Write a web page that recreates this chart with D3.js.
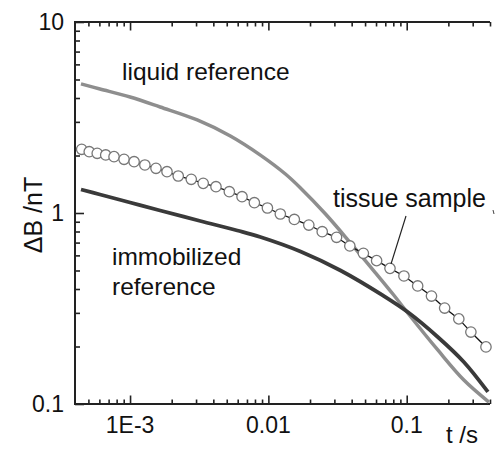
<!DOCTYPE html>
<html>
<head>
<meta charset="utf-8">
<script src="https://cdn.jsdelivr.net/npm/d3@7"></script>
<style>
  body { margin: 0; background: #fff; }
  text { font-family: "Liberation Sans", Arial, sans-serif; fill: #111; }
</style>
</head>
<body>
<script>
var width = 496,
    height = 450;

// tissue sample (circles), t in s, dB in nT
var tissueT = [4.47e-4, 5.07e-4, 5.79e-4, 6.67e-4, 7.66e-4, 9.05e-4, 1.07e-3, 1.28e-3, 1.54e-3, 1.85e-3,
               2.23e-3, 2.77e-3, 3.38e-3, 4.18e-3, 5.22e-3, 6.45e-3, 7.92e-3, 9.84e-3, 0.0122, 0.0154,
               0.0196, 0.0245, 0.0311, 0.0388, 0.0486, 0.0606, 0.0757, 0.0955, 0.120, 0.151,
               0.188, 0.238, 0.291, 0.374];
var tissueB = [2.155, 2.094, 2.054, 2.013, 1.972, 1.910, 1.856, 1.784, 1.714, 1.645,
               1.562, 1.501, 1.430, 1.373, 1.293, 1.217, 1.132, 1.062, 0.988, 0.925,
               0.865, 0.798, 0.746, 0.672, 0.615, 0.563, 0.513, 0.468, 0.415, 0.3675,
               0.318, 0.279, 0.238, 0.199];

// liquid reference
var liquidT = [4.42e-4, 6.06e-4, 1e-3, 1.65e-3, 3.06e-3, 5.31e-3, 8.75e-3, 0.01328, 0.01706,
               0.02588, 0.03928, 0.05963, 0.08051, 0.1017, 0.1677, 0.2588, 0.3928];
var liquidB = [4.74, 4.46, 4.05, 3.59, 3.07, 2.53, 2.01, 1.60, 1.352,
               0.988, 0.696, 0.485, 0.372, 0.2996, 0.1918, 0.1336, 0.1024];

// immobilized reference
var immobT = [4.42e-4, 6.06e-4, 1e-3, 1.65e-3, 3.22e-3, 5.96e-3, 8.75e-3, 0.01706, 0.03325,
              0.0681, 0.1017, 0.1677, 0.2588, 0.3864];
var immobB = [1.327, 1.250, 1.135, 1.031, 0.908, 0.810, 0.749, 0.629, 0.500,
              0.368, 0.303, 0.2243, 0.1659, 0.1156];

var xMajor = [1e-3, 1e-2, 1e-1];
var xLabels = ['1E-3', '0.01', '0.1'];
var yMajor = [0.1, 1, 10];
var yLabels = ['0.1', '1', '10'];

var svg = d3.select('body').append('svg')
    .attr('width', width)
    .attr('height', height);

var x = d3.scaleLog().domain([4e-4, 0.4]).range([75, 490]);
var y = d3.scaleLog().domain([0.1, 10]).range([404, 22]);

function minors(lo, hi) {
    var out = [];
    for (var p = Math.floor(Math.log10(lo)); p <= Math.ceil(Math.log10(hi)); p++) {
        for (var m = 2; m <= 9; m++) {
            var v = m * Math.pow(10, p);
            if (v > lo * 1.0001 && v <= hi * 1.0001) out.push(v);
        }
    }
    return out;
}

// axes: ticks pointing inward
function drawAxis(axis, transform) {
    var g = svg.append('g').attr('transform', transform).call(axis);
    g.selectAll('text').remove();
    g.select('.domain').remove();
    g.selectAll('line').attr('stroke', '#222').attr('stroke-width', 1.6);
    return g;
}
drawAxis(d3.axisBottom(x).tickValues(minors(4e-4, 0.4)).tickSize(-4.5), 'translate(0,404)');
drawAxis(d3.axisBottom(x).tickValues(xMajor).tickSize(-8.5), 'translate(0,404)');
drawAxis(d3.axisTop(x).tickValues(minors(4e-4, 0.4)).tickSize(-4.5), 'translate(0,22)');
drawAxis(d3.axisTop(x).tickValues(xMajor).tickSize(-8.5), 'translate(0,22)');
drawAxis(d3.axisLeft(y).tickValues(minors(0.1, 10)).tickSize(-5), 'translate(75,0)');
drawAxis(d3.axisLeft(y).tickValues(yMajor).tickSize(-9), 'translate(75,0)');

// frame: left, bottom, top
svg.append('path')
    .attr('d', 'M' + x.range()[1] + ',' + y.range()[1] + 'H' + x.range()[0] + 'V' + y.range()[0] + 'H' + x.range()[1])
    .attr('fill', 'none')
    .attr('stroke', '#222')
    .attr('stroke-width', 2);

// tick labels
svg.selectAll('.xl').data(xMajor).enter().append('text')
    .attr('x', function (d) { return x(d); })
    .attr('y', 433)
    .attr('text-anchor', 'middle')
    .style('font-size', '23px')
    .text(function (d, i) { return xLabels[i]; });

svg.selectAll('.yl').data(yMajor).enter().append('text')
    .attr('x', 64)
    .attr('y', function (d) { return y(d) + 8; })
    .attr('text-anchor', 'end')
    .style('font-size', '23px')
    .text(function (d, i) { return yLabels[i]; });

// axis titles
svg.append('text')
    .attr('transform', 'translate(42,215) rotate(-90)')
    .attr('text-anchor', 'middle')
    .style('font-size', '25px')
    .text('\u0394B /nT');

svg.append('text')
    .attr('x', 446)
    .attr('y', 443)
    .style('font-size', '24px')
    .text('t /s');

// curves
var line = d3.line()
    .x(function (d) { return x(d[0]); })
    .y(function (d) { return y(d[1]); })
    .curve(d3.curveCatmullRom);

svg.append('path')
    .attr('d', line(d3.zip(liquidT, liquidB)))
    .attr('fill', 'none')
    .attr('stroke', '#8e8e8e')
    .attr('stroke-width', 3.5);

svg.append('path')
    .attr('d', line(d3.zip(immobT, immobB)))
    .attr('fill', 'none')
    .attr('stroke', '#3a3a3a')
    .attr('stroke-width', 3.8);

var tissue = d3.zip(tissueT, tissueB);
svg.append('path')
    .attr('d', d3.line().x(function (d) { return x(d[0]); }).y(function (d) { return y(d[1]); })(tissue))
    .attr('fill', 'none')
    .attr('stroke', '#111')
    .attr('stroke-width', 1.3);

svg.selectAll('circle').data(tissue).enter().append('circle')
    .attr('cx', function (d) { return x(d[0]); })
    .attr('cy', function (d) { return y(d[1]); })
    .attr('r', 5.2)
    .attr('fill', '#fff')
    .attr('stroke', '#777')
    .attr('stroke-width', 1.3);

// annotations
svg.append('text').attr('x', 122).attr('y', 80).style('font-size', '24.5px').text('liquid reference');
svg.append('text').attr('x', 333).attr('y', 207).style('font-size', '25px').text('tissue sample');
svg.append('text').attr('x', 112).attr('y', 265).style('font-size', '24.5px').text('immobilized');
svg.append('text').attr('x', 112).attr('y', 295).style('font-size', '24.5px').text('reference');

svg.append('line')
    .attr('x1', 406).attr('y1', 216)
    .attr('x2', 391).attr('y2', 264)
    .attr('stroke', '#222')
    .attr('stroke-width', 1.2);
svg.append('line')
    .attr('x1', 493).attr('y1', 210)
    .attr('x2', 494).attr('y2', 214)
    .attr('stroke', '#444')
    .attr('stroke-width', 1);
</script>
</body>
</html>
